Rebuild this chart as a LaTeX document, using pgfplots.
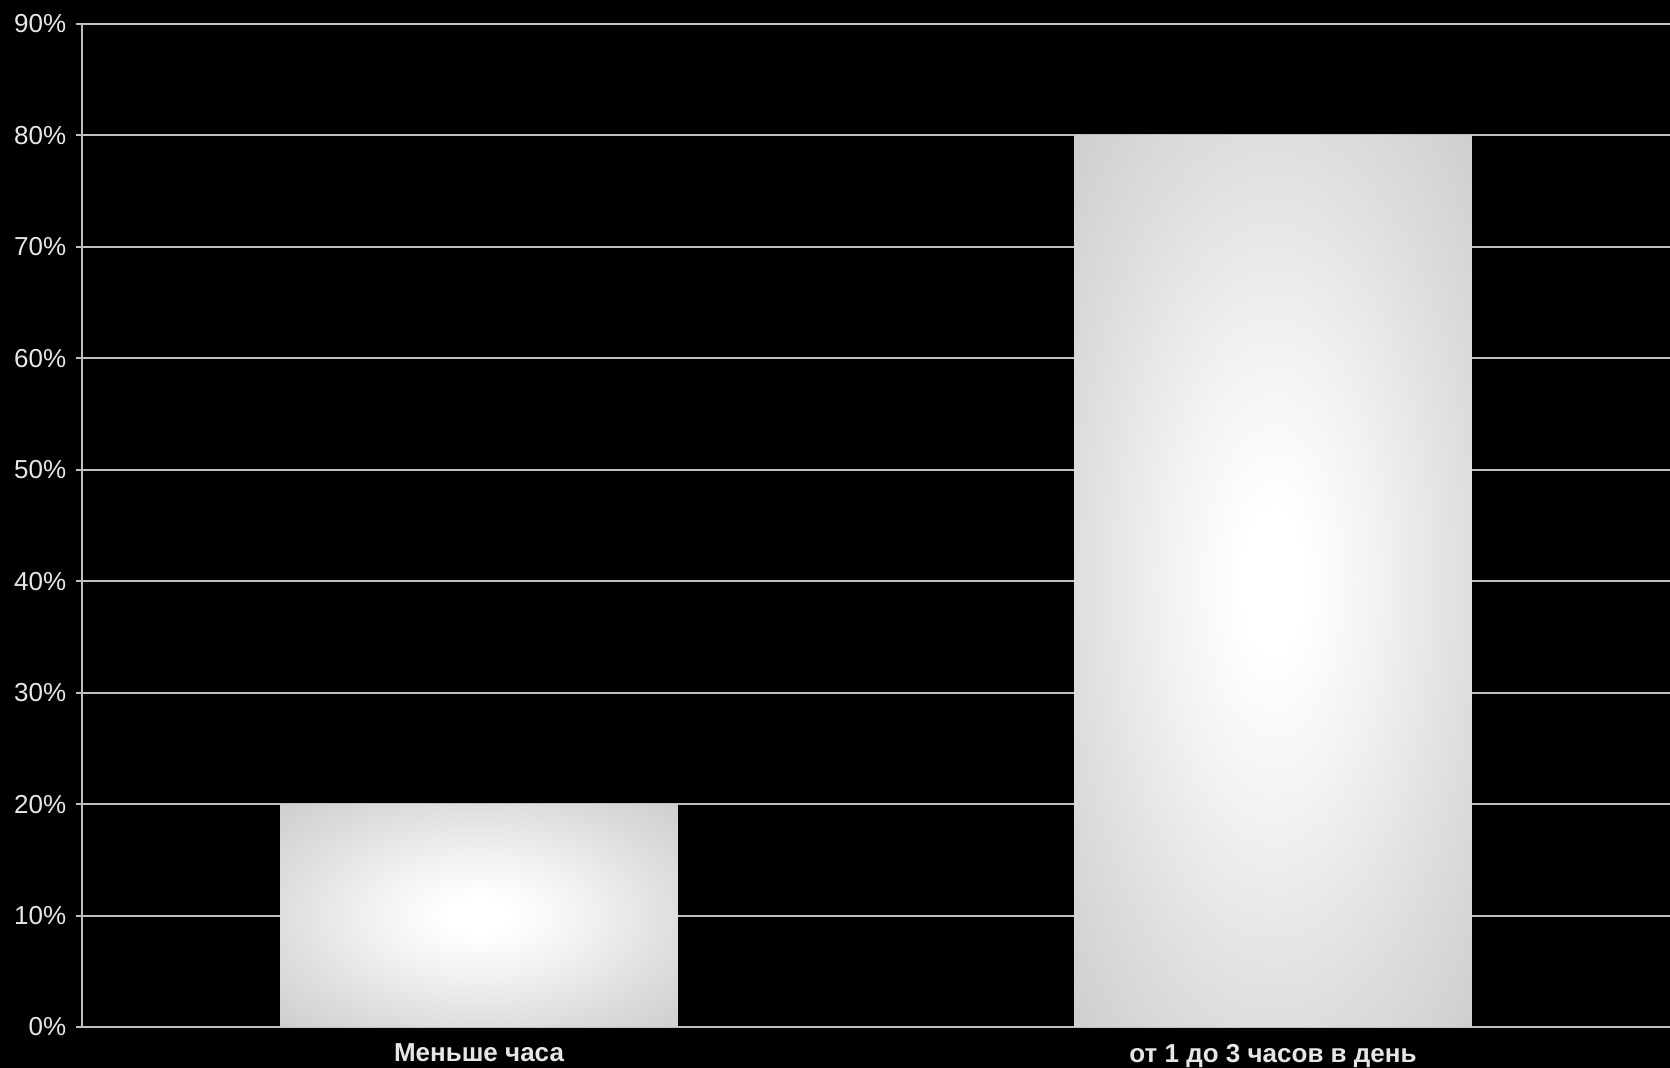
\documentclass[border=0pt]{standalone}
\usepackage{pgfplots}
\pgfplotsset{compat=1.18}
\usepackage{fontspec}
\setmainfont{Liberation Sans}
\definecolor{gridc}{HTML}{BFBFBF}
\definecolor{txt}{HTML}{E6E6E6}
\pgfdeclareradialshading{barshade}{\pgfpoint{0bp}{0bp}}{%
  rgb(0bp)=(1,1,1); rgb(4bp)=(1,1,1); rgb(13bp)=(0.95,0.95,0.95);
  rgb(25bp)=(0.87,0.87,0.87); rgb(35.4bp)=(0.81,0.81,0.81); rgb(50bp)=(0.81,0.81,0.81)}
\begin{document}
\begin{tikzpicture}
\fill[black] (-24.6pt,-12.3pt) rectangle (476.4pt,308.1pt);
\begin{axis}[
  at={(0,0)}, anchor=south west,
  scale only axis, width=476.4pt, height=300.9pt,
  xmin=0, xmax=2, ymin=0, ymax=90,
  axis x line=bottom, axis y line=left,
  axis line style={-, draw=gridc, line width=0.6pt},
  ytick={0,10,...,90},
  yticklabel={\pgfmathprintnumber{\tick}\%},
  /pgf/number format/assume math mode=true,
  ymajorgrids, grid style={draw=gridc, line width=0.6pt},
  tick align=outside, major tick length=1.8pt,
  tick style={draw=gridc, line width=0.6pt},
  xtick={0.5,1.5},
  xticklabels={Меньше часа, от 1 до 3 часов в день},
  x tick style={draw=none},
  extra x ticks={0,1,2}, extra x tick labels={},
  extra x tick style={tick style={draw=gridc, line width=0.6pt}, major tick length=1.8pt},
  ticklabel style={font=\fontsize{7.8}{9}\selectfont, text=txt},
  yticklabel style={xshift=0.6pt},
  xticklabel style={font=\bfseries\fontsize{7.8}{9}\selectfont, text=txt, yshift=0.2pt},
  ybar, bar width=0.5, bar shift=0pt,
]
\addplot[draw=none, shading=barshade] coordinates {(0.5,20)};
\addplot[draw=none, shading=barshade] coordinates {(1.5,80)};
\end{axis}
\pgfresetboundingbox
\useasboundingbox (-24.6pt,-12.3pt) rectangle (476.4pt,308.1pt);
\end{tikzpicture}
\end{document}
